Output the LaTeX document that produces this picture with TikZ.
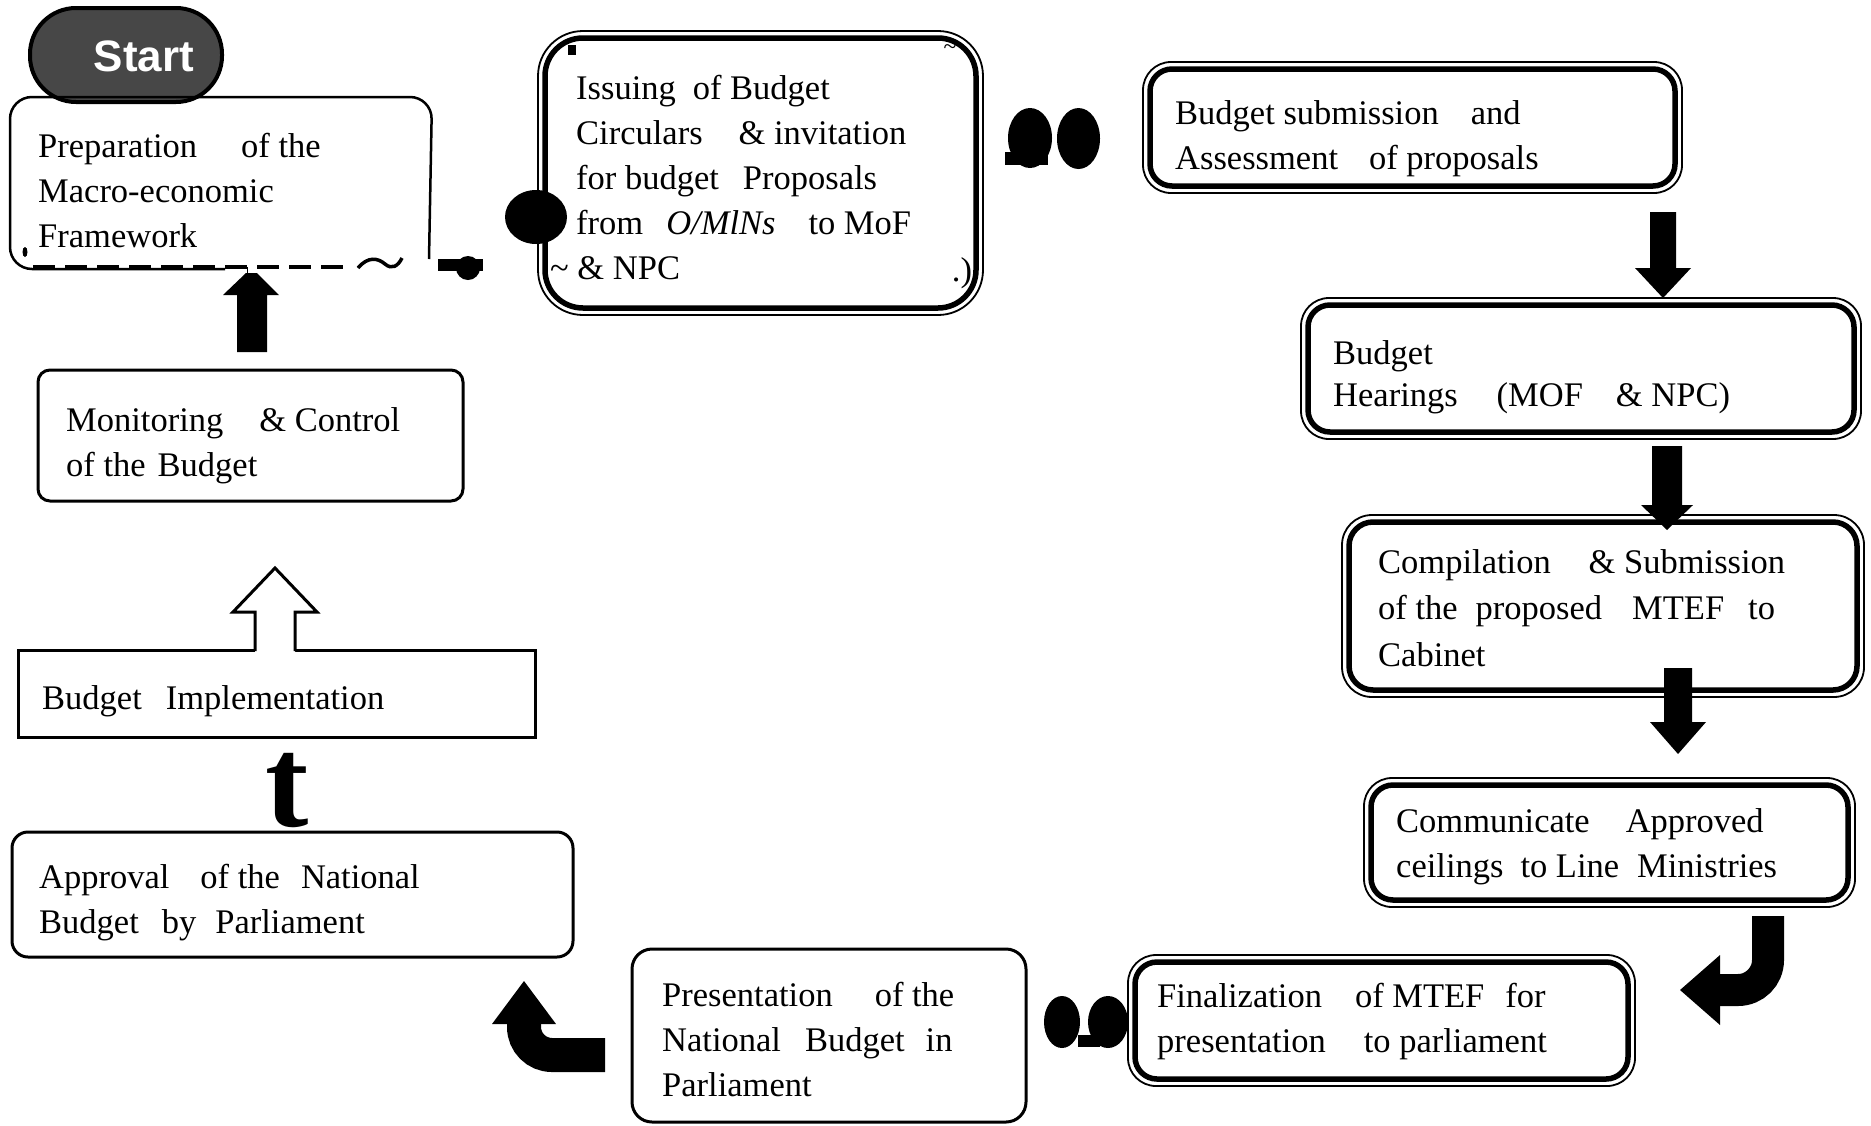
\documentclass[tikz,border=0pt]{standalone}
\usepackage{fontspec}
\setmainfont{Liberation Serif}
\setsansfont{Liberation Sans}
\usetikzlibrary{calc}
\newcommand\fs{\fontsize{34.5}{45}\selectfont}
\newcommand\fl{\rule{0pt}{27pt}}
\newcommand\gp[1]{\hspace*{#1pt}}
\newcommand\outerframe[2]{\draw[thinframe, rounded corners=#2] ($(#1.north west)+(-7,-7)$) rectangle ($(#1.south east)+(7,7)$);}
\newcommand\dnarrow[6]{\fill ({#1-#5},#2) -- ({#1+#5},#2) -- ({#1+#5},#3) -- ({#1+#6},#3) -- (#1,#4) -- ({#1-#6},#3) -- ({#1-#5},#3) -- cycle;}
\begin{document}
\begin{tikzpicture}[x=1pt,y=-1pt,
  boxnode/.style={rectangle, inner sep=0pt, outer sep=0pt},
  thickframe/.style={draw, line width=5.5pt},
  thinframe/.style={draw, line width=1.8pt},
  plainbox/.style={draw, line width=3pt},
  txt/.style={anchor=north west, inner sep=0pt, align=left, font=\fs},
]
\useasboundingbox[fill=white] (0,0) rectangle (1871,1125);

% ---------- Start pill
\node[boxnode, draw, line width=4pt, fill=black!72, rounded corners=46pt,
      minimum width=192pt, minimum height=94pt] (start) at (126,55) {};
\node[font=\sffamily\bfseries\fontsize{44}{44}\selectfont, text=white, inner sep=0pt] (starttxt) at (144,56) {Start};

% ---------- Preparation box (open bottom, dashed)
\node[boxnode, minimum width=422pt, minimum height=172pt] (prep) at (221,183) {};
\draw[line width=2.5pt, rounded corners=22pt] ($(prep.south east)+(-3,-10)$) -- (prep.north east) -- (prep.north west) -- (prep.south west) -- ($(prep.south west)+(215,0)$);
\draw[line width=4.5pt, dash pattern=on 22pt off 10pt] (33,267) -- (352,267);
\draw[line width=3.5pt] (358,268) .. controls (368,256) and (378,258) .. (385,264) .. controls (392,270) and (398,266) .. (402,258);
\fill (25,252) ellipse [x radius=2.5pt, y radius=5pt];
\node[txt] (preptxt) at (38,130) {\fl Preparation\gp{44}of the\\Macro-economic\\Framework};
\fill (438,259) rectangle (483,271);
\fill (468,268) circle [radius=12pt];

% ---------- Issuing box
\node[boxnode, thickframe, rounded corners=38pt, minimum width=431pt, minimum height=270pt] (iss) at (760.5,173) {};
\outerframe{iss}{45pt}
\node[txt] (isstxt) at (576,72) {\fl Issuing\gp{17}of Budget\\Circulars\gp{36}\& invitation\\for budget\gp{24}Proposals\\from\gp{23}\textit{O/MlNs}\gp{33}to MoF\\\hspace*{-26pt}\textasciitilde\ \& NPC};
\fill (536,217) ellipse [x radius=31pt, y radius=27pt];
\fill (568,45) rectangle (576,55);
\node[font=\fontsize{24}{24}\selectfont, inner sep=0pt] (tildemark) at (950,50) {\textasciitilde};
\node[font=\fs, anchor=base, inner sep=0pt] (dotmark) at (962,281) {.)};

% ---------- blobs between Issuing and Budget submission
\fill (1030,138) ellipse [x radius=22pt, y radius=30pt];
\fill (1005,152) rectangle (1048,165);
\fill (1078.5,138.5) ellipse [x radius=21.5pt, y radius=30.5pt];

% ---------- Budget submission
\node[boxnode, thickframe, rounded corners=22pt, minimum width=525pt, minimum height=117pt] (sub) at (1412.5,127.5) {};
\outerframe{sub}{28pt}
\node[txt] (subtxt) at (1175,97) {\fl Budget submission\gp{32}and\\Assessment\gp{31}of proposals};

% ---------- Budget Hearings
\node[boxnode, thickframe, rounded corners=22pt, minimum width=546pt, minimum height=127pt] (hear) at (1581,368.5) {};
\outerframe{hear}{28pt}
\node[txt, font=\fontsize{34.5}{42}\selectfont] (heartxt) at (1333,337) {\fl Budget\\Hearings\gp{39}(MOF\gp{33}\& NPC)};

% ---------- Compilation
\node[boxnode, thickframe, rounded corners=24pt, minimum width=508pt, minimum height=168pt] (comp) at (1603,606) {};
\outerframe{comp}{30pt}
\node[txt, font=\fontsize{34.5}{46.5}\selectfont] (comptxt) at (1378,546) {\fl Compilation\gp{38}\& Submission\\of the\gp{18}proposed\gp{30}MTEF\gp{24}to\\Cabinet};

% ---------- Communicate
\node[boxnode, thickframe, rounded corners=22pt, minimum width=477pt, minimum height=115pt] (comm) at (1609.5,842.5) {};
\outerframe{comm}{28pt}
\node[txt] (commtxt) at (1396,805) {\fl Communicate\gp{36}Approved\\ceilings\gp{17}to Line\gp{18}Ministries};

% ---------- Finalization
\node[boxnode, thickframe, rounded corners=22pt, minimum width=493pt, minimum height=117pt] (fin) at (1381.5,1020.5) {};
\outerframe{fin}{28pt}
\node[txt] (fintxt) at (1157,980) {\fl Finalization\gp{33}of MTEF\gp{21}for\\presentation\gp{38}to parliament};
\fill (1062,1022) ellipse [x radius=18pt, y radius=26pt];
\fill (1108,1022) ellipse [x radius=20pt, y radius=26pt];
\fill (1078,1035) rectangle (1100,1047);

% ---------- Presentation
\node[boxnode, plainbox, rounded corners=20pt, minimum width=394pt, minimum height=173pt] (pres) at (829,1035.5) {};
\node[txt] (prestxt) at (662,979) {\fl Presentation\gp{42}of the\\National\gp{24}Budget\gp{21}in\\Parliament};

% ---------- Approval
\node[boxnode, plainbox, rounded corners=16pt, minimum width=561pt, minimum height=125pt] (appr) at (292.5,894.5) {};
\node[txt] (apprtxt) at (39,861) {\fl Approval\gp{31}of the\gp{21}National\\Budget\gp{23}by\gp{19}Parliament};

% ---------- Budget Implementation
\node[boxnode, plainbox, minimum width=517pt, minimum height=87pt] (impl) at (276.5,693.5) {};
\node[txt] (impltxt) at (42,682) {\fl Budget\gp{24}Implementation};

% ---------- Monitoring
\node[boxnode, plainbox, rounded corners=12pt, minimum width=425pt, minimum height=131pt] (mon) at (250.5,435.5) {};
\node[txt] (montxt) at (66,404) {\fl Monitoring\gp{36}\& Control\\of the\gp{12}Budget};

% ---------- straight down arrows
\dnarrow{1663}{212}{268}{298}{13}{28}
\dnarrow{1667}{446}{505}{530}{15}{26}
\dnarrow{1678}{668}{722}{754}{14}{28}

% ---------- bent arrow Communicate -> Finalization
\draw[line width=32pt, rounded corners=30pt] (1768,916) -- (1768,990) -- (1716,990);
\fill (1720,955) -- (1680,990) -- (1720,1025) -- cycle;

% ---------- bent arrow Presentation -> Approval
\draw[line width=34pt, rounded corners=28pt] (605,1055) -- (524,1055) -- (524,1020);
\fill (492,1024) -- (524,981) -- (556,1024) -- cycle;

% ---------- "t" arrow Approval -> Implementation
\node[font=\bfseries\fontsize{130}{130}\selectfont, anchor=base, inner sep=0pt] (tarrow) at (287,826) {t};

% ---------- hollow arrow Implementation -> Monitoring
\fill[white] (255,656) -- (255,612) -- (233,612) -- (275,568) -- (317,612) -- (295,612) -- (295,656) -- cycle;
\draw[line width=3pt, line join=miter] (255,651) -- (255,612) -- (233,612) -- (275,568) -- (317,612) -- (295,612) -- (295,651);

% ---------- solid up arrow Monitoring -> Preparation
\fill (237,352) -- (237,295) -- (223,295) -- (246,273) -- (257,273) -- (279,295) -- (267,295) -- (267,352) -- cycle;
\draw[line width=1pt] (247,267) -- (247,274);
\end{tikzpicture}
\end{document}
